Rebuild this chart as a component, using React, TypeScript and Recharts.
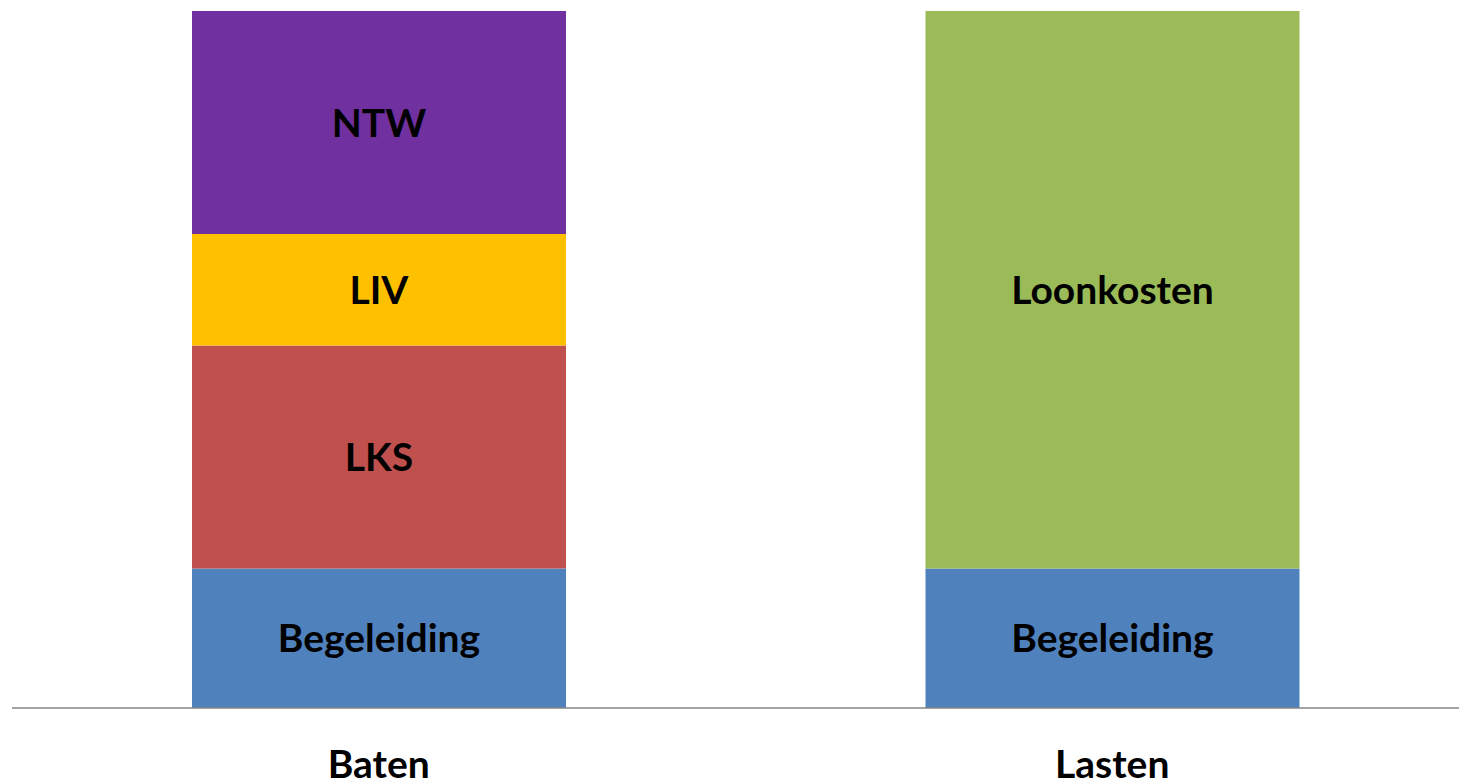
import { Bar, BarChart, LabelList, XAxis, YAxis } from "recharts";

const categories = ["Baten", "Lasten"];
const begeleiding = [20, 20];
const lks = [32, 0];
const liv = [16, 0];
const ntw = [32, 0];
const loonkosten = [0, 80];

const series = [
  { key: "Begeleiding", values: begeleiding, color: "#4F81BD" },
  { key: "LKS", values: lks, color: "#C0504D" },
  { key: "LIV", values: liv, color: "#FFC000" },
  { key: "NTW", values: ntw, color: "#7030A0" },
  { key: "Loonkosten", values: loonkosten, color: "#9BBB59" },
];

const data = categories.map((name, i) => {
  const row: Record<string, string | number> = { name };
  series.forEach((s) => {
    row[s.key] = s.values[i];
  });
  return row;
});

const FONT = "Lato, 'Open Sans', sans-serif";

const SegmentLabel = (name: string) => (props: any) => {
  const { x, y, width, height, value } = props;
  if (!value) return null;
  return (
    <text
      x={x + width / 2}
      y={y + height / 2}
      dy={14}
      textAnchor="middle"
      fontFamily={FONT}
      fontWeight={700}
      fontSize={39}
      fill="#000"
    >
      {name}
    </text>
  );
};

const CategoryTick = (props: any) => {
  const { x, y, payload } = props;
  return (
    <text
      x={x}
      y={y}
      dy={62}
      textAnchor="middle"
      fontFamily={FONT}
      fontWeight={700}
      fontSize={39}
      fill="#000"
    >
      {payload.value}
    </text>
  );
};

const App = () => {
  return (
    <div
      style={{
        position: "fixed",
        top: 0,
        left: 0,
        width: 1459,
        height: 782,
        overflow: "hidden",
        background: "#fff",
      }}
    >
      <BarChart
        width={1479}
        height={782}
        data={data}
        margin={{ top: 11, right: 0, left: 12, bottom: 0 }}
      >
        <XAxis
          dataKey="name"
          height={74}
          axisLine={{ stroke: "#868686", strokeWidth: 1.5 }}
          tickLine={false}
          tick={<CategoryTick />}
          interval={0}
        />
        <YAxis hide domain={[0, 100]} />
        {series.map((s) => (
          <Bar
            key={s.key}
            dataKey={s.key}
            stackId="a"
            fill={s.color}
            barSize={374}
            isAnimationActive={false}
          >
            <LabelList dataKey={s.key} content={SegmentLabel(s.key)} />
          </Bar>
        ))}
      </BarChart>
    </div>
  );
};

export default App;
